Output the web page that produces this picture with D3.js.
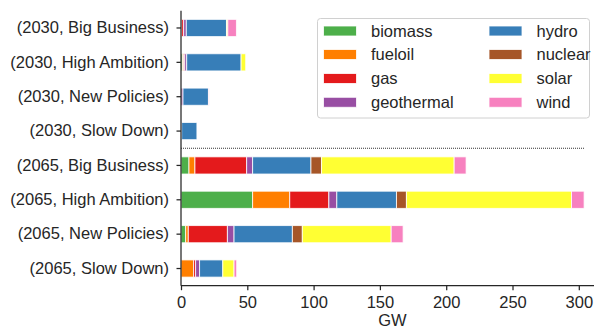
<!DOCTYPE html>
<html>
<head>
<meta charset="utf-8">
<script src="https://cdn.jsdelivr.net/npm/d3@7"></script>
<style>
  html, body { margin: 0; padding: 0; background: #fff; }
  svg { display: block; font-family: "Liberation Sans", Arial, sans-serif; }
</style>
</head>
<body>
<svg id="chart" width="594" height="328"></svg>
<script>
// Installed capacity (GW) by scenario and source
const categories = [
  "(2030, Big Business)", "(2030, High Ambition)", "(2030, New Policies)", "(2030, Slow Down)",
  "(2065, Big Business)", "(2065, High Ambition)", "(2065, New Policies)", "(2065, Slow Down)"
];
const sources = ["biomass", "fueloil", "gas", "geothermal", "hydro", "nuclear", "solar", "wind"];
const biomass    = [0,   1.2, 0,   0,    6,   54,    3.5, 0];
const fueloil    = [0.5, 0.8, 0,   0,    4.5, 28,    2,   9.5];
const gas        = [1.5, 0.8, 0,   0,    39,  29.5,  29.5, 1.5];
const geothermal = [2,   1.5, 1.5, 0.5,  4.5, 6,     5,   3];
const hydro      = [30.3, 41, 19.2, 11.5, 44, 45,    44,  17.5];
const nuclear    = [0,   0,   0,   0,    8,   7.5,   7.5, 0];
const solar      = [1,   3.5, 0,   0,    100, 124.5, 67,  8.5];
const wind       = [6.5, 0,   0.5, 0,    9,   9.5,   9,   2];
const xTicks = [0, 50, 100, 150, 200, 250, 300];
const colors = ["#4daf4a", "#ff7f00", "#e41a1c", "#984ea3", "#377eb8", "#a65628", "#ffff33", "#f781bf"];

const seriesValues = { biomass, fueloil, gas, geothermal, hydro, nuclear, solar, wind };
const rows = categories.map((c, i) => {
  const r = { category: c };
  sources.forEach(s => { r[s] = seriesValues[s][i]; });
  return r;
});

const svg = d3.select("#chart");
const plot = { left: 181, right: 604, top: 10.8, bottom: 285.7 };
const ink = "#262626";
const labelSize = "16.5px";

const x = d3.scaleLinear().domain([0, 319]).range([plot.left, plot.right]);
const y = d3.scaleBand().domain(categories).range([plot.top, plot.bottom])
  .paddingInner(0.5).paddingOuter(0.25);
const color = d3.scaleOrdinal().domain(sources).range(colors);

const stacked = d3.stack().keys(sources)(rows);

// stacked horizontal bars
svg.append("g").selectAll("g")
  .data(stacked).join("g")
  .attr("fill", d => color(d.key))
  .selectAll("rect")
  .data(d => d).join("rect")
  .attr("x", d => x(d[0]))
  .attr("y", d => y(d.data.category))
  .attr("width", d => Math.max(0, x(d[1]) - x(d[0])))
  .attr("height", y.bandwidth())
  .attr("stroke", "#fff")
  .attr("stroke-opacity", 0.8)
  .attr("stroke-width", 1);

// separator between the 2030 and 2065 groups
const sepY = (y(categories[3]) + y.bandwidth() + y(categories[4])) / 2;
svg.append("line")
  .attr("x1", plot.left).attr("x2", 585)
  .attr("y1", sepY).attr("y2", sepY)
  .attr("stroke", "#333").attr("stroke-width", 1)
  .attr("stroke-dasharray", "1,1");

// y axis
const yAxis = svg.append("g")
  .attr("transform", `translate(${plot.left},0)`)
  .call(d3.axisLeft(y).tickSize(4.5).tickPadding(7.5));
yAxis.select(".domain").attr("stroke", ink).attr("stroke-width", 1.25)
  .attr("d", `M0,${plot.top}V${plot.bottom}`);
yAxis.selectAll(".tick line").attr("stroke", ink).attr("stroke-width", 1.25);
yAxis.selectAll(".tick text").attr("fill", ink).style("font-size", labelSize);

// x axis
const xAxis = svg.append("g")
  .attr("transform", `translate(0,${plot.bottom})`)
  .call(d3.axisBottom(x).tickValues(xTicks).tickSize(4.5).tickPadding(6.5));
xAxis.select(".domain").attr("stroke", ink).attr("stroke-width", 1.25)
  .attr("d", `M${plot.left},0H${plot.right}`);
xAxis.selectAll(".tick line").attr("stroke", ink).attr("stroke-width", 1.25);
xAxis.selectAll(".tick text").attr("fill", ink).style("font-size", labelSize);

svg.append("text")
  .attr("x", (plot.left + plot.right) / 2)
  .attr("y", 325.5)
  .attr("text-anchor", "middle")
  .attr("fill", ink)
  .style("font-size", labelSize)
  .text("GW");

// legend, two columns
const legend = svg.append("g");
legend.append("rect")
  .attr("x", 317.5).attr("y", 18.5)
  .attr("width", 272).attr("height", 99.5)
  .attr("rx", 3)
  .attr("fill", "#fff").attr("fill-opacity", 0.8)
  .attr("stroke", "#d0d0d0").attr("stroke-width", 1);

const colX = [323.5, 489];
const rowY = [31, 54.5, 78.5, 102.3];
sources.forEach((s, i) => {
  const cx = colX[Math.floor(i / 4)];
  const cy = rowY[i % 4];
  legend.append("rect")
    .attr("x", cx).attr("y", cy - 5)
    .attr("width", 33).attr("height", 10)
    .attr("fill", color(s))
    .attr("stroke", "#fff").attr("stroke-opacity", 0.8).attr("stroke-width", 1);
  legend.append("text")
    .attr("x", cx + 47.5).attr("y", cy)
    .attr("dy", "0.35em")
    .attr("fill", ink)
    .style("font-size", labelSize)
    .text(s);
});
</script>
</body>
</html>
